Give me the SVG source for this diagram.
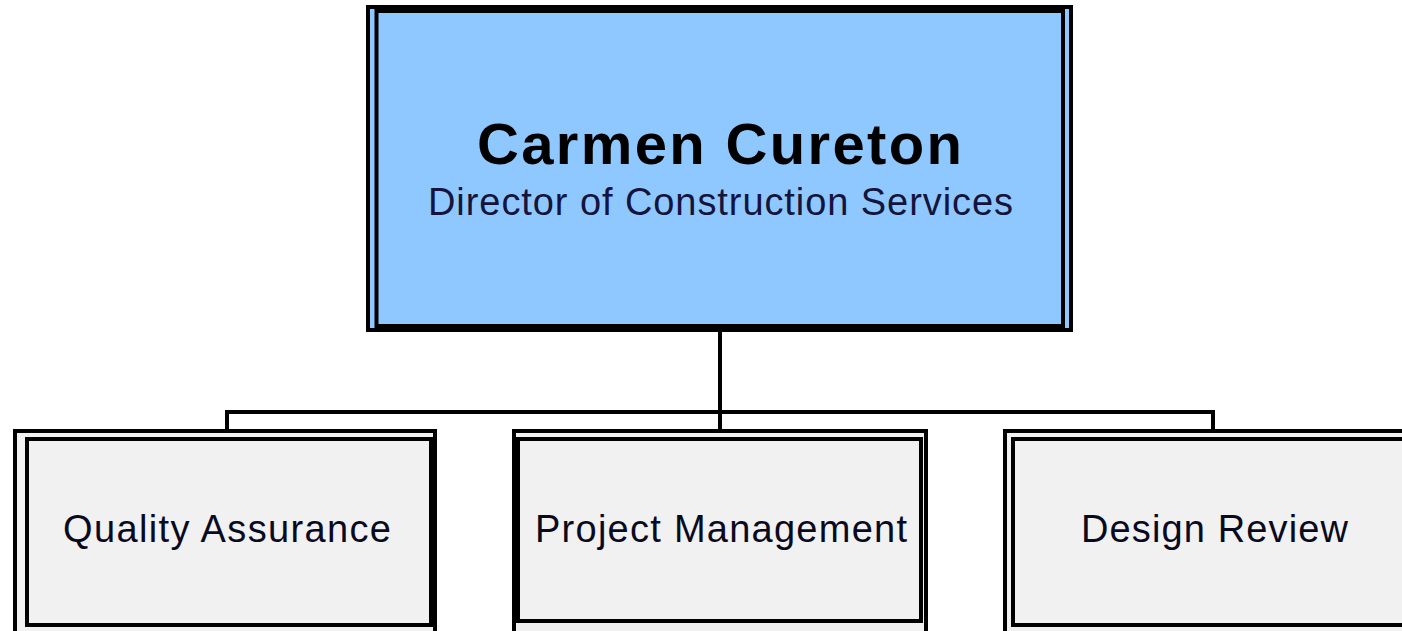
<svg xmlns="http://www.w3.org/2000/svg" width="1402" height="631" viewBox="0 0 1402 631">
<style>
.frame{stroke:#000;stroke-width:4;}
.top{fill:#8FC8FF;}
.child{fill:#F1F1F1;}
.conn{stroke:#000;stroke-width:4;fill:none;}
text{font-family:"Liberation Sans",Arial,sans-serif;text-anchor:middle;}
.name{font-size:58px;font-weight:bold;fill:#000;}
.title{font-size:38px;fill:#14143c;}
.label{font-size:38px;fill:#0a0a1e;}
</style>
<rect x="0" y="0" width="1402" height="631" fill="#fff"/>
<g id="connectors">
<path class="conn" d="M720 330 V412 M227 412 H1213 M227 410 V431 M720 410 V431 M1213 410 V431"/>
</g>
<g id="node-director">
<rect class="frame top" x="368" y="7" width="703" height="323"/>
<rect class="frame top" x="376.5" y="11" width="686.5" height="315"/>
<text class="name" x="719.5" y="164" textLength="485" lengthAdjust="spacing">Carmen Cureton</text>
<text class="title" x="720.5" y="215" textLength="585" lengthAdjust="spacing">Director of Construction Services</text>
</g>
<g id="node-qa">
<rect class="frame child" x="15" y="431" width="420" height="220"/>
<rect class="frame child" x="27" y="439" width="404" height="186"/>
<text class="label" x="227" y="542" textLength="328" lengthAdjust="spacing">Quality Assurance</text>
</g>
<g id="node-pm">
<rect class="frame child" x="514" y="431" width="412" height="220"/>
<rect class="frame child" x="518" y="439" width="403" height="182"/>
<text class="label" x="721" y="542" textLength="372" lengthAdjust="spacing">Project Management</text>
</g>
<g id="node-dr">
<rect class="frame child" x="1005" y="431" width="420" height="220"/>
<rect class="frame child" x="1013" y="439" width="404" height="186"/>
<text class="label" x="1214.5" y="542" textLength="267" lengthAdjust="spacing">Design Review</text>
</g>
</svg>
